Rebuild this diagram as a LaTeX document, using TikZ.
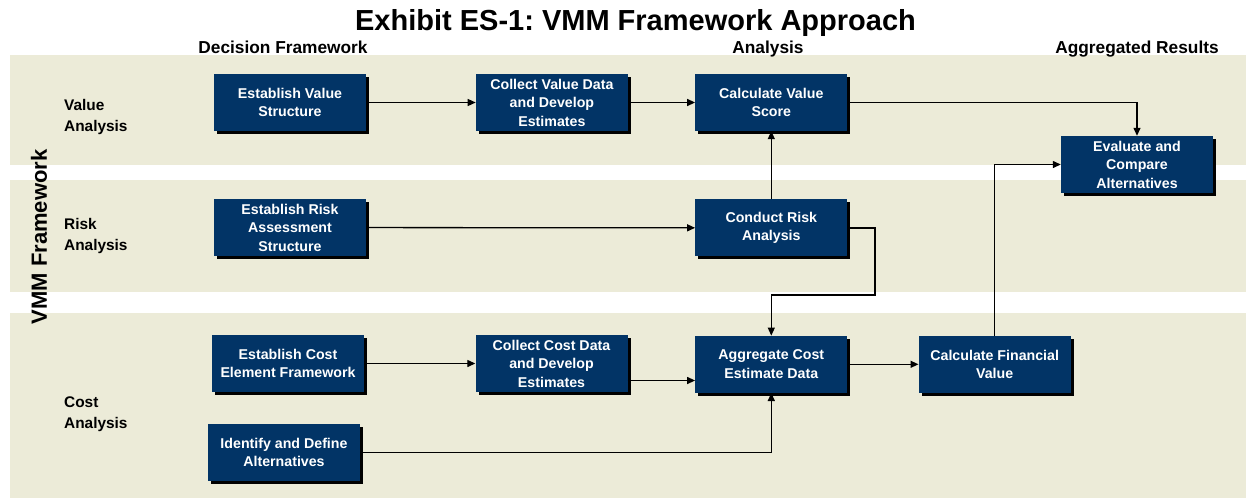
\documentclass[tikz,border=0pt]{standalone}
\usepackage{fontspec}
\setmainfont{Liberation Sans}
\usepackage{tikz}
\usetikzlibrary{arrows.meta,positioning,shadows}
\definecolor{band}{HTML}{ECEBD8}
\definecolor{navy}{HTML}{023466}
\frenchspacing

\begin{document}
\begin{tikzpicture}[x=1pt,y=-1pt,% pixel units, y runs downwards
	every node/.style={
		align=center,		% so that "\\" breaks the line
		inner sep=2pt
		},
	box/.style={rectangle,fill=navy,text=white,
		minimum width=152pt,minimum height=57pt,
		font=\bfseries\fontsize{14.2}{18.5}\selectfont,
		drop shadow={shadow xshift=3pt,shadow yshift=-3pt,fill=black,opacity=1}},
	lab/.style={anchor=west,align=left,font=\bfseries\fontsize{15.4}{21}\selectfont},
	head/.style={anchor=base,font=\bfseries\fontsize{17.3}{20}\selectfont},
	conn/.style={draw,line width=1.3pt,->},
	every edge/.style={conn},
	>={Triangle[length=8pt,width=7pt]}
	]
	\useasboundingbox (0,0) rectangle (1248,499);
	% the three bands
	\fill[band] (10,55) rectangle (1246,165);
	\fill[band] (10,180) rectangle (1246,292);
	\fill[band] (10,313) rectangle (1246,498);
	% titles
	\node[anchor=base,font=\bfseries\fontsize{29}{32}\selectfont](T) at (635.5,30) {Exhibit ES-1: VMM Framework Approach};
	\node[head](H1) at (283,53) {Decision Framework};
	\node[head](H2) at (768,53) {Analysis};
	\node[head](H3) at (1137,53) {Aggregated Results};
	\node[rotate=90,font=\bfseries\fontsize{22}{24}\selectfont](F) at (39,237) {VMM Framework};
	\node[lab](L1) at (62,117) {Value\\Analysis};
	\node[lab](L2) at (62,236.5) {Risk\\Analysis};
	\node[lab](L3) at (62,414.5) {Cost\\Analysis};
	% value row
	\node[box](V1) at (290,102.5) {Establish Value\\Structure};
	\node[box](V2)[right=109.5pt of V1] {Collect Value Data\\and Develop\\Estimates};
	\node[box](V3)[right=67pt of V2] {Calculate Value\\Score};
	\node[box](A1) at (1137,164.5) {Evaluate and\\Compare\\Alternatives};
	% risk row
	\node[box](R1) at (290,227.5) {Establish Risk\\Assessment\\Structure};
	\node[box](R2)[below=68pt of V3] {Conduct Risk\\Analysis};
	% cost row
	\node[box](C1) at (288,363.5) {Establish Cost\\Element Framework};
	\node[box](C2) at (551.5,363.5) {Collect Cost Data\\and Develop\\Estimates};
	\node[box](C3)[below=79pt of R2] {Aggregate Cost\\Estimate Data};
	\node[box](C4)[right=71pt of C3] {Calculate Financial\\Value};
	\node[box](C5) at (284,452.5) {Identify and Define\\Alternatives};
	\coordinate (K1) at (875,295);
	\path[->]
	(V1) edge (V2)
	(V2) edge (V3)
	(R1) edge (R2)
	(R2) edge (V3)
	(C1) edge (C2)
	(C3) edge (C4)
	;
	\draw[conn] (V3.east) -| (A1.north);
	\draw[conn] (R2.east) -| (K1) -| (C3.north);
	\draw[conn] ([yshift=-17pt]C2.east) -- ([yshift=-17pt]C2.east -| C3.west);
	\draw[conn] (C5.east) -| (C3.south);
	\draw[conn] (C4.north) |- (A1.west);
\end{tikzpicture}
\end{document}
